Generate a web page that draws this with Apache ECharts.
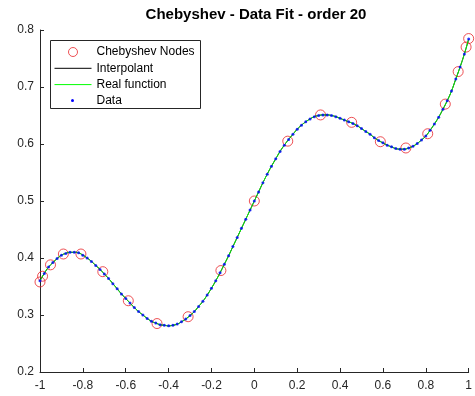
<!DOCTYPE html>
<html>
<head>
<meta charset="utf-8">
<script src="https://cdn.jsdelivr.net/npm/echarts@6/dist/echarts.min.js"></script>
<style>html,body{margin:0;padding:0;background:#fff}#c{width:475px;height:396px}</style>
</head>
<body>
<div id="c"></div>
<script>
// Chebyshev node positions and values
var nodeX = [-1, -0.988, -0.951, -0.891, -0.809, -0.707, -0.588, -0.454, -0.309, -0.156, 0,
             0.156, 0.309, 0.454, 0.588, 0.707, 0.809, 0.891, 0.951, 0.988, 1];
var nodeY = [0.358, 0.368, 0.388, 0.407, 0.407, 0.376, 0.325, 0.285, 0.297, 0.378, 0.500,
             0.605, 0.651, 0.638, 0.604, 0.593, 0.618, 0.670, 0.727, 0.770, 0.785];
// Sampled data along the curve, x from -1 to 1 in steps of 0.02
var dataStart = -1, dataStep = 0.02;
var dataY = [
  0.360, 0.373, 0.384, 0.392, 0.399, 0.405, 0.408, 0.410, 0.410, 0.409,
  0.405, 0.400, 0.394, 0.387, 0.380, 0.372, 0.364, 0.355, 0.346, 0.337,
  0.329, 0.321, 0.313, 0.306, 0.300, 0.294, 0.289, 0.286, 0.283, 0.282,
  0.281, 0.282, 0.284, 0.288, 0.293, 0.299, 0.306, 0.315, 0.324, 0.335,
  0.347, 0.360, 0.374, 0.389, 0.404, 0.420, 0.436, 0.452, 0.468, 0.484,
  0.500, 0.516, 0.532, 0.547, 0.561, 0.574, 0.587, 0.598, 0.608, 0.617,
  0.626, 0.633, 0.639, 0.644, 0.648, 0.650, 0.651, 0.651, 0.650, 0.648,
  0.645, 0.642, 0.639, 0.636, 0.632, 0.627, 0.622, 0.617, 0.611, 0.606,
  0.602, 0.598, 0.595, 0.592, 0.591, 0.591, 0.593, 0.596, 0.601, 0.607,
  0.614, 0.624, 0.635, 0.647, 0.661, 0.676, 0.693, 0.714, 0.735, 0.758,
  0.784
];
var seriesNames = ['Chebyshev Nodes', 'Interpolant', 'Real function', 'Data'];
var titleText = 'Chebyshev - Data Fit - order 20';

var nodes = nodeX.map(function (x, i) { return [x, nodeY[i]]; });
var pts = dataY.map(function (y, i) { return [+(dataStart + i * dataStep).toFixed(2), y]; });

var font = 'Liberation Sans, Arial, Helvetica, sans-serif';
var axisColor = '#262626';
function fmt(v) { return String(+v.toFixed(1)); }

var chart = echarts.init(document.getElementById('c'), null, {renderer: 'canvas'});
chart.setOption({
  animation: false,
  backgroundColor: '#ffffff',
  title: {
    text: titleText, left: 256, top: 7, textAlign: 'center', padding: 0,
    textStyle: {fontFamily: font, fontSize: 15, fontWeight: 'bold', color: '#000'}
  },
  grid: {left: 40, right: 3, top: 30, bottom: 24, containLabel: false},
  xAxis: {
    type: 'value', min: -1, max: 1, interval: 0.2,
    axisLine: {show: true, onZero: false, lineStyle: {color: axisColor, width: 1}},
    axisTick: {show: true, inside: true, length: 4, lineStyle: {color: axisColor}},
    axisLabel: {formatter: fmt, margin: 8, fontFamily: font, fontSize: 12, color: axisColor},
    splitLine: {show: false}
  },
  yAxis: {
    type: 'value', min: 0.2, max: 0.8, interval: 0.1,
    axisLine: {show: true, onZero: false, lineStyle: {color: axisColor, width: 1}},
    axisTick: {show: true, inside: true, length: 4, lineStyle: {color: axisColor}},
    axisLabel: {formatter: fmt, margin: 6, fontFamily: font, fontSize: 12, color: axisColor},
    splitLine: {show: false}
  },
  graphic: [{
    type: 'rect', left: 50, top: 40, z: 100,
    shape: {width: 150, height: 68},
    style: {fill: '#fff', stroke: '#262626', lineWidth: 1}
  }, {
    type: 'circle', z: 120,
    shape: {cx: 72.5, cy: 100.5, r: 1.5},
    style: {fill: '#0000ff'}
  }],
  legend: {
    data: [
      {name: seriesNames[0], icon: 'circle',
       itemStyle: {color: 'rgba(0,0,0,0)', borderColor: '#e8262a', borderWidth: 1}},
      {name: seriesNames[1], itemStyle: {opacity: 0}, lineStyle: {width: 1}},
      {name: seriesNames[2], itemStyle: {opacity: 0}, lineStyle: {width: 1}},
      {name: seriesNames[3], itemStyle: {opacity: 0}}
    ],
    orient: 'vertical', left: 54, top: 46,
    itemWidth: 37, itemHeight: 9, itemGap: 4.3, padding: 0, z: 110,
    textStyle: {fontFamily: font, fontSize: 12, color: '#000'}
  },
  series: [{
    name: seriesNames[0], type: 'scatter', data: nodes,
    symbol: 'circle', symbolSize: 10,
    itemStyle: {color: 'rgba(0,0,0,0)', borderColor: '#e8262a', borderWidth: 1}, z: 2
  }, {
    name: seriesNames[1], type: 'line', data: pts, symbol: 'none', smooth: true,
    lineStyle: {color: '#000000', width: 1}, itemStyle: {color: '#000000'}, z: 3
  }, {
    name: seriesNames[2], type: 'line', data: pts, symbol: 'none', smooth: true,
    lineStyle: {color: '#00ff00', width: 1}, itemStyle: {color: '#00ff00'}, z: 4
  }, {
    name: seriesNames[3], type: 'scatter', data: pts,
    symbol: 'circle', symbolSize: 3,
    itemStyle: {color: '#0000ff'}, z: 5
  }]
});
</script>
</body>
</html>
